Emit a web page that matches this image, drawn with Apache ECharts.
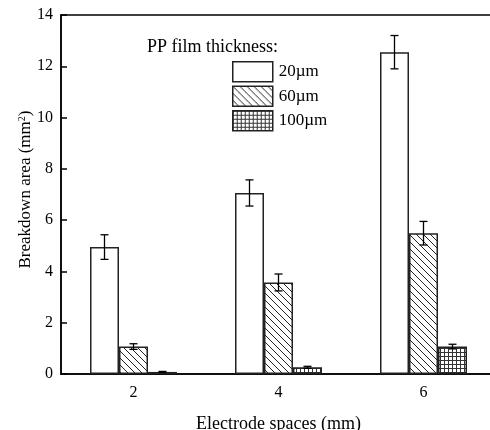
<!DOCTYPE html>
<html>
<head>
<meta charset="utf-8">
<script src="https://cdn.jsdelivr.net/npm/echarts@6/dist/echarts.min.js"></script>
<style>
  html, body { margin: 0; padding: 0; background: #fff; overflow: hidden; }
  #chart { width: 497px; height: 430px; }
</style>
</head>
<body>
<div id="chart"></div>
<script>
// electrode spaces (mm)
const spaces = ['2', '4', '6']
const thickness = ['20µm', '60µm', '100µm']
// breakdown area (mm^2) and error for each film thickness
const area20 = [4.95, 7.06, 12.55]
const err20 = [0.48, 0.51, 0.65]
const area60 = [1.07, 3.57, 5.49]
const err60 = [0.11, 0.33, 0.46]
const area100 = [0.08, 0.26, 1.07]
const err100 = [0.02, 0.04, 0.09]

const font = 'Liberation Serif'

// hatch patterns
function diagPattern() {
  const c = document.createElement('canvas')
  c.width = 7
  c.height = 7
  const ctx = c.getContext('2d')
  ctx.fillStyle = '#fff'
  ctx.fillRect(0, 0, 7, 7)
  ctx.strokeStyle = '#222'
  ctx.lineWidth = 1
  ctx.beginPath()
  ctx.moveTo(-1, -1)
  ctx.lineTo(8, 8)
  ctx.stroke()
  return c
}
function gridPattern() {
  const c = document.createElement('canvas')
  c.width = 4
  c.height = 4
  const ctx = c.getContext('2d')
  ctx.fillStyle = '#fff'
  ctx.fillRect(0, 0, 4, 4)
  ctx.fillStyle = '#333'
  ctx.fillRect(0, 0, 4, 1)
  ctx.fillRect(0, 0, 1, 4)
  return c
}

const fills = [
  '#fff',
  { image: diagPattern(), repeat: 'repeat' },
  { image: gridPattern(), repeat: 'repeat' }
]
const values = [area20, area60, area100]
const errors = [err20, err60, err100]

const barSeries = thickness.map((name, i) => ({
  name: name,
  type: 'bar',
  data: values[i],
  barWidth: '20%',
  barGap: 0,
  itemStyle: { color: fills[i], borderColor: '#222', borderWidth: 1.5 },
  z: 2
}))

const errData = []
values.forEach((vals, s) => {
  vals.forEach((v, k) => {
    errData.push([k, v, errors[s][k], s])
  })
})

const errSeries = {
  type: 'custom',
  data: errData,
  z: 5,
  silent: true,
  renderItem: function (params, api) {
    const k = api.value(0)
    const v = api.value(1)
    const e = api.value(2)
    const s = api.value(3)
    const band = api.size([1, 0])[0]
    const x = api.coord([k, v])[0] + (s - 1) * band * 0.2
    const yTop = api.coord([k, v + e])[1]
    const yBot = api.coord([k, v - e])[1]
    const cap = 4
    const style = { stroke: '#000', lineWidth: 1.3 }
    return {
      type: 'group',
      children: [
        { type: 'line', shape: { x1: x, y1: yTop, x2: x, y2: yBot }, style: style },
        { type: 'line', shape: { x1: x - cap, y1: yTop, x2: x + cap, y2: yTop }, style: style },
        { type: 'line', shape: { x1: x - cap, y1: yBot, x2: x + cap, y2: yBot }, style: style }
      ]
    }
  }
}

const myChart = echarts.init(document.getElementById('chart'))
myChart.setOption({
  animation: false,
  title: {
    text: 'PP film thickness:',
    left: 147,
    top: 38,
    textStyle: { fontFamily: font, fontSize: 18, fontWeight: 'normal', color: '#000' },
    padding: 0
  },
  legend: {
    data: thickness,
    orient: 'vertical',
    left: 232,
    top: 61,
    itemWidth: 40,
    itemHeight: 20,
    itemGap: 3,
    padding: 0,
    icon: 'rect',
    textStyle: { fontFamily: font, fontSize: 17, color: '#000', padding: [0, 0, 0, 1] },
    itemStyle: { borderColor: '#222', borderWidth: 1.5 }
  },
  grid: {
    left: 61,
    right: 1,
    top: 15,
    bottom: 56,
    outerBoundsMode: 'none',
    containLabel: false,
    show: true,
    borderColor: '#000',
    borderWidth: 1.5
  },
  xAxis: {
    type: 'category',
    data: spaces,
    name: 'Electrode spaces (mm)',
    nameLocation: 'middle',
    nameGap: 41,
    nameMoveOverlap: false,
    nameTextStyle: { fontFamily: font, fontSize: 18, color: '#000' },
    axisLine: { lineStyle: { color: '#000', width: 1.5 } },
    axisTick: { alignWithLabel: true, length: 6, lineStyle: { color: '#000', width: 1.5 } },
    axisLabel: { fontFamily: font, fontSize: 16, color: '#000', margin: 11 },
    splitLine: { show: false }
  },
  yAxis: {
    type: 'value',
    min: 0,
    max: 14,
    interval: 2,
    name: 'Breakdown area (mm{sup|2})',
    nameLocation: 'middle',
    nameGap: 26,
    nameMoveOverlap: false,
    nameTextStyle: {
      fontFamily: font,
      fontSize: 17,
      color: '#000',
      padding: [0, 0, 0, 10],
      rich: { sup: { fontFamily: font, fontSize: 10, color: '#000', verticalAlign: 'top', padding: [0, 0, 8, 0] } }
    },
    axisLine: { show: true, lineStyle: { color: '#000', width: 1.5 } },
    axisTick: { show: true, inside: true, length: 6, lineStyle: { color: '#000', width: 1.5 } },
    axisLabel: { fontFamily: font, fontSize: 16, color: '#000', margin: 8 },
    splitLine: { show: false }
  },
  series: barSeries.concat([errSeries])
})
</script>
</body>
</html>
